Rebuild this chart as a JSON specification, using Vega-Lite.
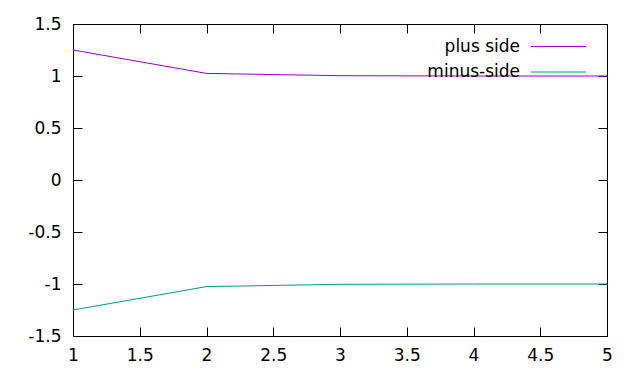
{
  "$schema": "https://vega.github.io/schema/vega-lite/v6.json",
  "width": 534,
  "height": 312,
  "autosize": {"type": "none"},
  "padding": {"left": 73, "top": 24, "right": 33, "bottom": 48},
  "background": "white",
  "config": {
    "view": {"stroke": "black", "strokeWidth": 1},
    "locale": {"number": {"decimal": ".", "thousands": ",", "grouping": [3], "currency": ["$", ""], "minus": "-"}},
    "axis": {
      "grid": false,
      "domain": false,
      "tickColor": "black",
      "tickWidth": 1,
      "tickSize": -9,
      "labelFont": "DejaVu Sans",
      "labelFontSize": 17,
      "labelColor": "black",
      "title": null
    }
  },
  "data": {
    "values": [
      {"x": 1, "y": 1.25, "series": "plus side"},
      {"x": 2, "y": 1.025, "series": "plus side"},
      {"x": 3, "y": 1.003, "series": "plus side"},
      {"x": 4, "y": 1.0, "series": "plus side"},
      {"x": 5, "y": 1.0, "series": "plus side"},
      {"x": 1, "y": -1.25, "series": "minus-side"},
      {"x": 2, "y": -1.025, "series": "minus-side"},
      {"x": 3, "y": -1.003, "series": "minus-side"},
      {"x": 4, "y": -1.0, "series": "minus-side"},
      {"x": 5, "y": -1.0, "series": "minus-side"}
    ]
  },
  "layer": [
    {
      "mark": {"type": "line", "strokeWidth": 1, "clip": true},
      "encoding": {
        "x": {
          "field": "x", "type": "quantitative",
          "scale": {"domain": [1, 5], "nice": false, "zero": false},
          "axis": {"orient": "bottom", "values": [1, 1.5, 2, 2.5, 3, 3.5, 4, 4.5, 5], "format": "~g", "labelPadding": 20, "labelFlush": false}
        },
        "y": {
          "field": "y", "type": "quantitative",
          "scale": {"domain": [-1.5, 1.5], "nice": false, "zero": false},
          "axis": {"orient": "left", "values": [-1.5, -1, -0.5, 0, 0.5, 1, 1.5], "format": "~g", "labelPadding": 21}
        },
        "color": {
          "field": "series", "type": "nominal",
          "scale": {"domain": ["plus side", "minus-side"], "range": ["#9400d3", "#009e73"]},
          "legend": {
            "title": null,
            "orient": "none",
            "legendX": 471,
            "legendY": 8,
            "padding": 0,
            "symbolType": "M-2,0H2",
            "symbolSize": 756,
            "symbolStrokeWidth": 1,
            "symbolFillColor": "transparent",
            "labelAlign": "right",
            "labelOffset": -53,
            "labelFont": "DejaVu Sans",
            "labelFontSize": 17,
            "labelColor": "black",
            "rowPadding": 2.5,
            "encode": {
              "symbols": {"update": {"stroke": {"scale": "color", "field": "value"}, "fill": {"value": "transparent"}}}
            }
          }
        }
      }
    },
    {
      "mark": {"type": "line", "opacity": 0},
      "encoding": {
        "x": {
          "field": "x", "type": "quantitative",
          "axis": {"orient": "top", "values": [1, 1.5, 2, 2.5, 3, 3.5, 4, 4.5, 5], "labels": false}
        },
        "y": {
          "field": "y", "type": "quantitative",
          "axis": {"orient": "right", "values": [-1.5, -1, -0.5, 0, 0.5, 1, 1.5], "labels": false}
        }
      }
    }
  ],
  "resolve": {"axis": {"x": "independent", "y": "independent"}}
}
